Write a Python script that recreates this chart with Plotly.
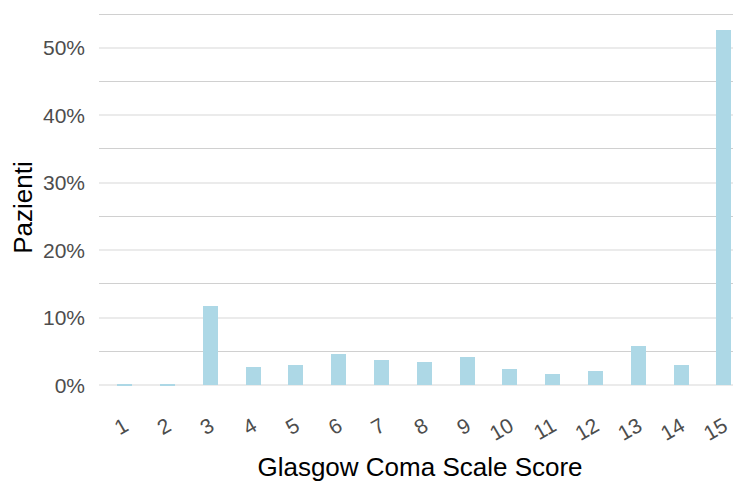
import plotly.graph_objects as go

scores = list(range(1, 16))
score_labels = [str(s) for s in scores]
pazienti_pct = [0.15, 0.15, 11.7, 2.67, 2.97, 4.6, 3.7, 3.4, 4.15, 2.37, 1.63, 2.08, 5.8, 2.97, 52.7]
y_ticks = [0, 10, 20, 30, 40, 50]
y_labels = [f"{v}%" for v in y_ticks]
y_minor = [5, 15, 25, 35, 45, 55]

fig = go.Figure(go.Bar(
    x=scores, y=pazienti_pct, width=0.35,
    marker=dict(color="#add8e6", line=dict(width=0)),
))

# page body has an 8px margin, so the figure is offset by 8px
fig.update_layout(
    width=733, height=477,
    margin=dict(l=91, r=0, t=4, b=82, autoexpand=False),
    paper_bgcolor="white", plot_bgcolor="white",
    font=dict(family="Liberation Sans, Arial, sans-serif", color="#4d4d4d"),
    showlegend=False,
    bargap=0,
)
fig.update_xaxes(
    range=[0.4, 15.4], tickmode="array", tickvals=scores, ticktext=score_labels,
    tickangle=-30, tickfont=dict(size=21, color="#4d4d4d"),
    showgrid=False, zeroline=False, showline=False, ticks="", ticklabelstandoff=6,
    title=dict(text="Glasgow Coma Scale Score", font=dict(size=26, color="black"), standoff=14),
    automargin=False,
)
fig.update_yaxes(
    range=[-2.64, 55.3], tickmode="array", tickvals=y_ticks, ticktext=y_labels,
    tickfont=dict(size=21, color="#4d4d4d"),
    showgrid=True, gridcolor="#ebebeb", gridwidth=2,
    minor=dict(tickmode="array", tickvals=y_minor, showgrid=True, gridcolor="#d0d0d0", gridwidth=1),
    zeroline=False, showline=False, ticks="", ticklabelstandoff=13,
    title=dict(text="Pazienti", font=dict(size=26, color="black"), standoff=8),
    automargin=False,
)

fig.write_html("out.html")
